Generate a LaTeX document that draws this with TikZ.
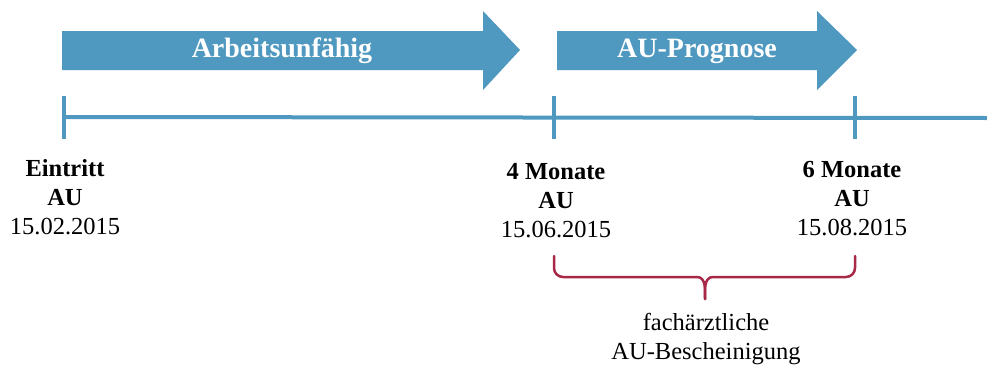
\documentclass[tikz,border=0pt]{standalone}
\usepackage{fontspec}
\setmainfont{Liberation Serif}
\definecolor{arrowblue}{RGB}{79,152,192}
\definecolor{bracered}{RGB}{168,40,72}
\begin{document}
\begin{tikzpicture}[x=1pt,y=-1pt,
  arrowshape/.style={fill=arrowblue,draw=none},
  arrowtext/.style={text=white,font=\fontsize{28}{30}\selectfont\bfseries,inner sep=0pt},
  tl/.style={draw=arrowblue,line width=4pt},
  lbl/.style={align=center,font=\fontsize{24.5}{29}\selectfont,inner sep=0pt},
  brace/.style={draw=bracered,line width=2.5pt,line cap=round,line join=round}]
\useasboundingbox (0,0) rectangle (987,367);
% arrows
\fill[arrowshape] (62,31) -- (483,31) -- (483,11) -- (520,50) -- (483,90) -- (483,70) -- (62,70) -- cycle;
\fill[arrowshape] (557,31) -- (817,31) -- (817,11) -- (857,50) -- (817,90) -- (817,70) -- (557,70) -- cycle;
\node[arrowtext] (a1) at (282,51) {Arbeitsunfähig};
\node[arrowtext] (a2) at (697,51) {AU-Prognose};
% timeline
\coordinate (t0) at (64,117);
\coordinate (t1) at (554,117);
\coordinate (t2) at (855,117);
\coordinate (tend) at (987,118);
\draw[tl] (t0) -- (tend);
\draw[tl] ([yshift=-22pt]t0) -- ([yshift=21pt]t0);
\draw[tl] ([yshift=-22pt]t1) -- ([yshift=21pt]t1);
\draw[tl] ([yshift=-22pt]t2) -- ([yshift=21pt]t2);
% labels
\node[lbl] (l0) at (65,197) {\textbf{Eintritt}\\\textbf{AU}\\15.02.2015};
\node[lbl] (l1) at (556,201) {\textbf{4 Monate}\\\textbf{AU}\\15.06.2015};
\node[lbl] (l2) at (852,199) {\textbf{6 Monate}\\\textbf{AU}\\15.08.2015};
% brace
\coordinate (bl) at (554,256);
\coordinate (br) at (855,256);
\coordinate (bm) at (705,299);
\draw[brace] (bl) -- (554,268) to[out=-90,in=180] (563,277) -- (697,277) to[out=0,in=90] (bm);
\draw[brace] (br) -- (855,268) to[out=-90,in=0] (846,277) -- (713,277) to[out=180,in=90] (bm);
\node[lbl] (l3) at (706,339) {fachärztliche\\AU-Bescheinigung};
\end{tikzpicture}
\end{document}
